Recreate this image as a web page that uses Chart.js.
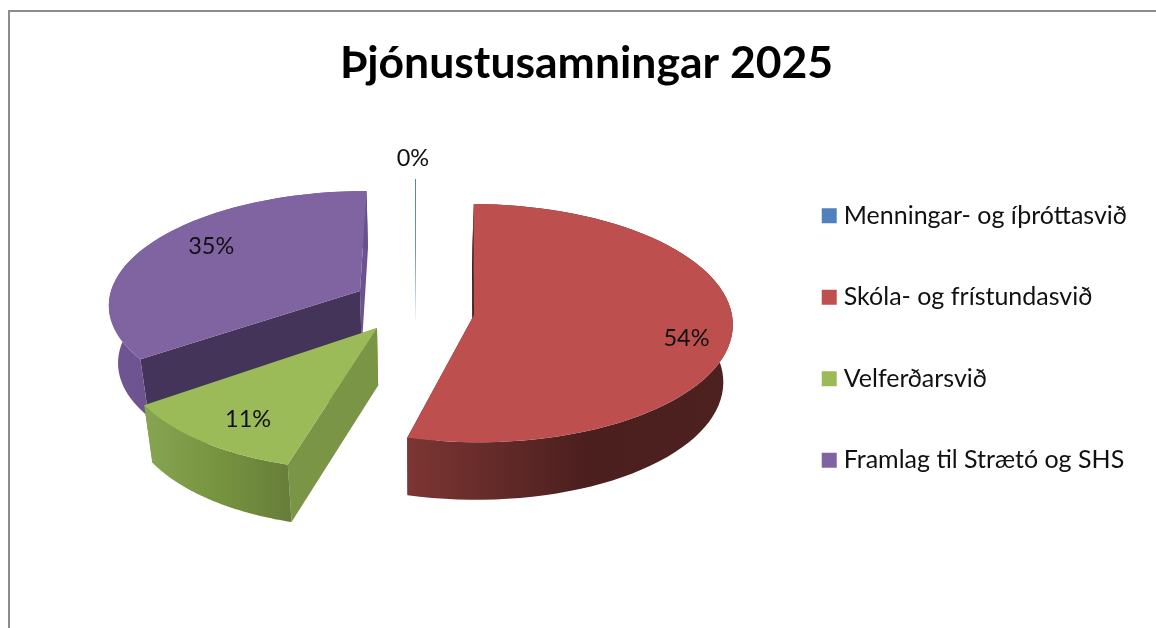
<!DOCTYPE html>
<html lang="is">
<head>
<meta charset="utf-8">
<title>Þjónustusamningar 2025</title>
<script src="https://cdn.jsdelivr.net/npm/chart.js@4"></script>
<style>html,body{margin:0;padding:0;background:#fff}canvas{display:block}</style>
</head>
<body>
<canvas id="c" width="1156" height="628"></canvas>
<script>
const chartTitle = 'Þjónustusamningar 2025';
const categories = ['Menningar- og íþróttasvið', 'Skóla- og frístundasvið', 'Velferðarsvið', 'Framlag til Strætó og SHS'];
const seriesValues = [0.2, 53.9, 11, 34.9];
const sliceColors = ['#4f81bd', '#bd504e', '#9bbb59', '#8064a2'];
const legendColors = ['#4f81bd', '#c0504d', '#9bbb59', '#8064a2'];

// Perspective of each exploded slice (style only, not data)
const views = [
  {ax:415, ay:320, sx:141, sy:141, lean:0,    k:0},
  {ax:474, ay:315, sx:258, sy:118.6, lean:3.5, k:0.068},
  {ax:377, ay:328, sx:252.7, sy:121, lean:-12.5, k:0.148},
  {ax:360, ay:291, sx:249, sy:110.2, lean:-7.2, k:0.102}
];
const labelSpots = [[-0.015,-1.145],[0.81,0.195],[-0.425,0.68],[-0.635,-0.42]];
const walls = {
  depth:57.5, converge:0.03, focusX:415,
  outer:[null,[[407,'#7c3633'],[585,'#4b1f1e'],[730,'#4d2120']],[[147,'#86a552'],[220,'#76933f'],[292,'#667d3a']],[[110,'#6e5592'],[370,'#67508c']]],
  startFace:[null,'#4a1f1e','#7b9546','#45345a'],
  endFace:[null,'#4a1f1e','#7b9546','#6b5290']
};

function project(i,u,v){
  const w=views[i], d=1-w.k*v;
  return {x:w.ax+(w.sx*u+w.lean*v)/d, y:w.ay+w.sy*v/d};
}
function under(p){
  return {x:p.x+(walls.focusX-p.x)*walls.converge, y:p.y+walls.depth};
}
function rim(i,a0,a1){
  const pts=[], n=72;
  for(let s=0;s<=n;s++){
    const a=a0+(a1-a0)*s/n+Math.PI/2;
    pts.push(project(i,Math.sin(a),-Math.cos(a)));
  }
  return pts;
}
function poly(ctx,pts,fill){
  ctx.beginPath();
  pts.forEach((p,j)=>j?ctx.lineTo(p.x,p.y):ctx.moveTo(p.x,p.y));
  ctx.closePath();
  ctx.fillStyle=fill;
  ctx.fill();
}
function hGrad(ctx,stops){
  const x0=stops[0][0], x1=stops[stops.length-1][0];
  const g=ctx.createLinearGradient(x0,0,x1,0);
  stops.forEach(s=>g.addColorStop((s[0]-x0)/(x1-x0),s[1]));
  return g;
}

const pie3d = {
  id:'pie3d',
  beforeDraw(chart){
    const ctx=chart.ctx;
    ctx.save();
    ctx.fillStyle='#fff';
    ctx.fillRect(0,0,chart.width,chart.height);
    ctx.fillStyle='#8c8c8c';
    ctx.fillRect(8,10,chart.width-8,2);
    ctx.fillRect(8,10,2,chart.height-10);
    ctx.restore();
  },
  beforeDatasetsDraw(chart){
    const ctx=chart.ctx, arcs=chart.getDatasetMeta(0).data;
    ctx.save();
    [3,2,0,1].forEach(i=>{
      const el=arcs[i], a0=el.startAngle, a1=el.endAngle;
      if(i===0){
        const mid=(a0+a1)/2+Math.PI/2;
        const top=project(0,Math.sin(mid),-Math.cos(mid));
        const apex=project(0,0,0);
        const g=ctx.createLinearGradient(0,top.y,0,apex.y);
        g.addColorStop(0,'#4f81bd');g.addColorStop(0.5,'#6f93c4');g.addColorStop(1,'rgba(79,129,189,0.05)');
        ctx.strokeStyle=g;ctx.lineWidth=1;
        ctx.beginPath();ctx.moveTo(415.5,top.y);ctx.lineTo(415.5,apex.y);ctx.stroke();
        return;
      }
      const edge=rim(i,a0,a1), apex=project(i,0,0);
      const first=edge[0], last=edge[edge.length-1];
      poly(ctx,[apex,last,under(last),under(apex)],walls.endFace[i]);
      poly(ctx,[apex,first,under(first),under(apex)],walls.startFace[i]);
      poly(ctx,edge.concat(edge.map(under).reverse()),hGrad(ctx,walls.outer[i]));
      poly(ctx,[apex].concat(edge),sliceColors[i]);
    });
    const total=seriesValues.reduce((a,b)=>a+b,0);
    ctx.fillStyle='#111';
    ctx.font='23.5px Lato, "Open Sans", sans-serif';
    ctx.textAlign='center';ctx.textBaseline='middle';
    seriesValues.forEach((val,i)=>{
      const p=project(i,labelSpots[i][0],labelSpots[i][1]);
      ctx.fillText(Math.round(val/total*100)+'%',p.x,p.y);
    });
    ctx.restore();
    return false;
  }
};

new Chart(document.getElementById('c'),{
  type:'pie',
  data:{labels:categories,datasets:[{data:seriesValues,backgroundColor:legendColors,borderColor:legendColors,borderWidth:11}]},
  plugins:[pie3d],
  options:{
    responsive:false,animation:false,devicePixelRatio:1,
    rotation:0,
    layout:{padding:{left:36,right:19,top:37,bottom:-11}},
    plugins:{
      tooltip:{enabled:false},
      title:{display:true,text:chartTitle,color:'#000',font:{family:'Lato, "Open Sans", sans-serif',size:44.5,weight:'bold'},padding:{top:0,bottom:7}},
      legend:{position:'right',align:'center',labels:{boxWidth:4,boxHeight:4,padding:56.5,color:'#111',font:{family:'Lato, "Open Sans", sans-serif',size:25}}}
    }
  }
});
</script>
</body>
</html>
